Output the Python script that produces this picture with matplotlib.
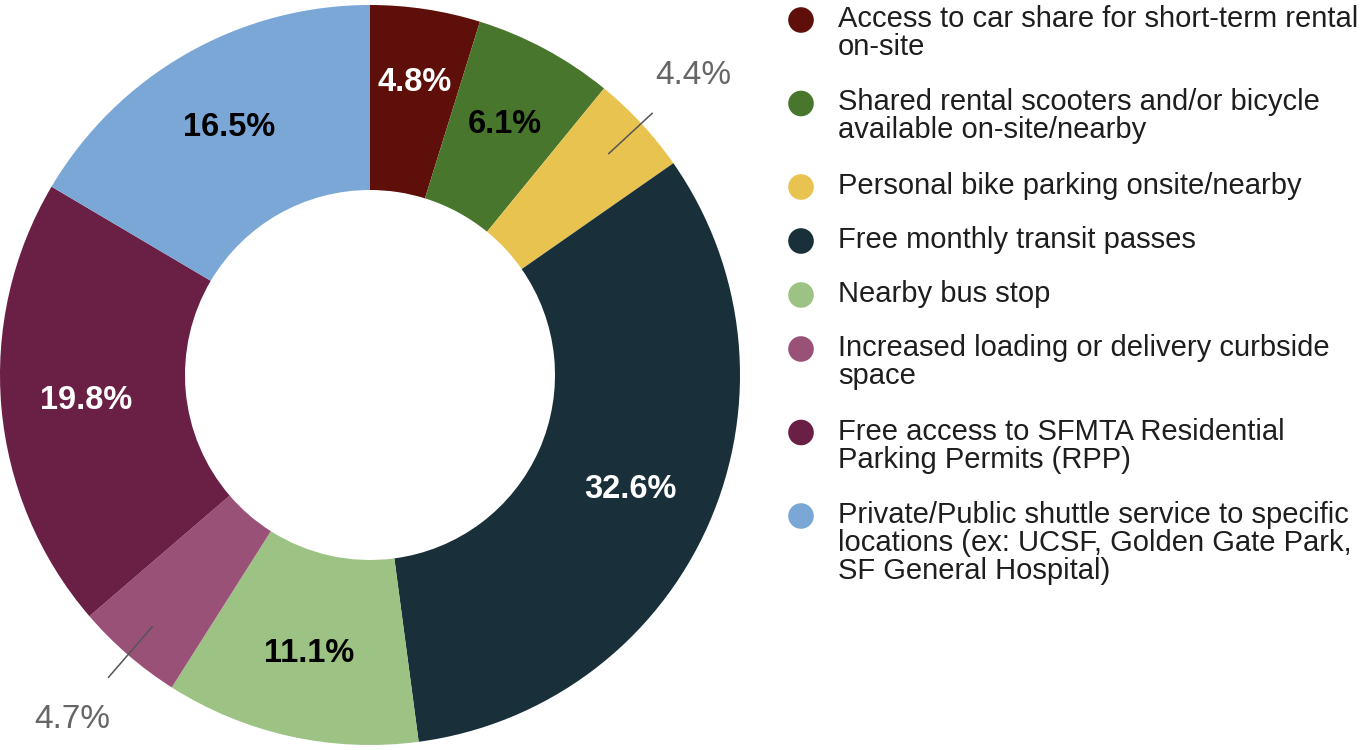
import numpy as np
import matplotlib
matplotlib.use('Agg')
import matplotlib.pyplot as plt

plt.rcParams['font.family'] = ['Liberation Sans', 'DejaVu Sans']

# --- data ---
categories = [
    "Access to car share for short-term rental\non-site",
    "Shared rental scooters and/or bicycle\navailable on-site/nearby",
    "Personal bike parking onsite/nearby",
    "Free monthly transit passes",
    "Nearby bus stop",
    "Increased loading or delivery curbside\nspace",
    "Free access to SFMTA Residential\nParking Permits (RPP)",
    "Private/Public shuttle service to specific\nlocations (ex: UCSF, Golden Gate Park,\nSF General Hospital)",
]
shares = [4.8, 6.1, 4.4, 32.6, 11.1, 4.7, 19.8, 16.5]
colors = ['#5E0F0A', '#48762C', '#E8C350', '#19303A',
          '#9DC384', '#9A5178', '#6A1F45', '#7BA7D7']
label_colors = ['white', 'black', None, 'white', 'black', None, 'white', 'black']
outside = {2: (0.88, 1.04, 1.19), 5: (0.9, 1.08, 1.23)}

W, H = 1363, 750
fig = plt.figure(figsize=(W / 100, H / 100), dpi=100)
ax = fig.add_axes([0, 0, 1, 1])

cx, cy, R = 370, 375, 370
ax.pie(shares, colors=colors, startangle=90, counterclock=False,
       center=(cx, cy), radius=R, frame=True,
       wedgeprops=dict(width=R * 0.5, linewidth=0))
ax.set_xlim(0, W)
ax.set_ylim(0, H)
ax.axis('off')

# slice labels
start = 90.0
for i, v in enumerate(shares):
    mid = np.deg2rad(start - v * 3.6 / 2)
    start -= v * 3.6
    if i in outside:
        r0, r1, rt = outside[i]
        ax.plot([cx + r0 * R * np.cos(mid), cx + r1 * R * np.cos(mid)],
                [cy + r0 * R * np.sin(mid), cy + r1 * R * np.sin(mid)],
                color='#555555', lw=1.1)
        ax.text(cx + rt * R * np.cos(mid), cy + rt * R * np.sin(mid),
                f"{v}%", color='#666666', fontsize=24,
                ha='center', va='center')
    else:
        rr = 0.8 if v < 5 else 0.77
        ax.text(cx + rr * R * np.cos(mid), cy + rr * R * np.sin(mid),
                f"{v}%", color=label_colors[i], fontsize=23.5, fontweight='bold',
                ha='center', va='center')

# legend
y = H - 20
for name, col in zip(categories, colors):
    ax.scatter([801], [y], s=340, color=col, edgecolors='none')
    ax.text(838, y + 15, name, fontsize=21, color='#1e1e1e', ha='left', va='top',
            linespacing=1.0)
    nlines = name.count('\n') + 1
    y -= 54 + 29.5 * (nlines - 1)

fig.savefig('out.png', dpi=100)
